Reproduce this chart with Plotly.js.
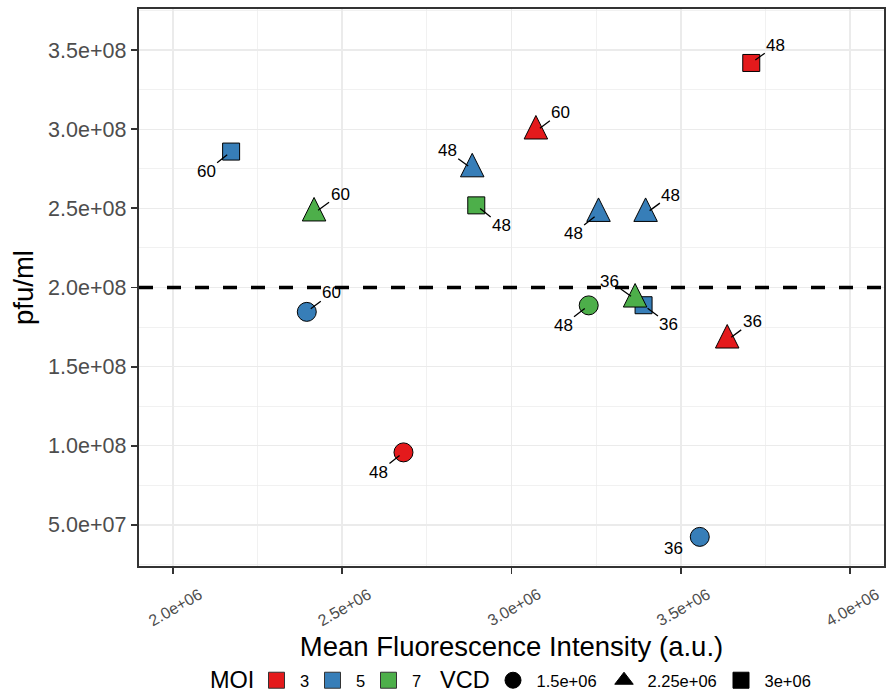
<!DOCTYPE html>
<html><head><meta charset="utf-8">
<script src="https://cdn.plot.ly/plotly-3.0.1.min.js"></script>
<style>html,body{margin:0;padding:0;background:#fff}#chart{width:886px;height:696px}</style>
</head><body><div id="chart"></div>
<script>
// ---- data ----
const mfi = [2.172e6, 2.417e6, 2.3955e6, 2.681e6, 3.556e6, 3.072e6, 2.884e6, 2.896e6, 3.257e6, 3.396e6, 3.228e6, 3.390e6, 3.365e6, 3.637e6, 3.708e6];
const pfu = [2.859e8, 2.470e8, 1.846e8, 0.958e8, 0.424e8, 2.988e8, 2.749e8, 2.519e8, 2.467e8, 2.467e8, 1.887e8, 1.888e8, 1.926e8, 1.667e8, 3.419e8];
const moi = [5, 7, 5, 3, 5, 3, 5, 7, 5, 5, 7, 5, 7, 3, 3];
const vcd = [3e6, 2.25e6, 1.5e6, 1.5e6, 1.5e6, 2.25e6, 2.25e6, 3e6, 2.25e6, 2.25e6, 1.5e6, 3e6, 2.25e6, 2.25e6, 3e6];
const hours = ['60', '60', '60', '48', '36', '60', '48', '48', '48', '48', '48', '36', '36', '36', '48'];
const moiLevels = [3, 5, 7];
const vcdLevels = [1.5e6, 2.25e6, 3e6];
const vcdLabels = ['1.5e+06', '2.25e+06', '3e+06'];
const xTicks = [2e6, 2.5e6, 3e6, 3.5e6, 4e6];
const xTickText = ['2.0e+06', '2.5e+06', '3.0e+06', '3.5e+06', '4.0e+06'];
const yTicks = [5e7, 1e8, 1.5e8, 2e8, 2.5e8, 3e8, 3.5e8];
const yTickText = ['5.0e+07', '1.0e+08', '1.5e+08', '2.0e+08', '2.5e+08', '3.0e+08', '3.5e+08'];
const threshold = 2e8;
const xLimits = [2e6, 4e6];
const yLimits = [4e7, 3.6e8];

// ---- styles ----
const FONT = 'Liberation Sans, Arial, Helvetica, sans-serif';
const moiColor = {3: '#E41A1C', 5: '#377EB8', 7: '#4DAF4A'};
const shapeStyle = {
  1.5e6: {symbol: 'circle', size: 19, angle: 0, standoff: 0},
  2.25e6: {symbol: 'arrow-down', size: 23.5, angle: 180, standoff: 23.5 * 2 / 3},
  3e6: {symbol: 'square', size: 17, angle: 0, standoff: 0}
};
const legendSymbol = {1.5e6: 'circle', 2.25e6: 'triangle-up', 3e6: 'square'};
const vcdItemWidth = [59, 65, 50];
// label offsets (px) for repelled text
const labelOffset = [[-25, 20], [26, -19], [25, -19], [-25, 20], [-26, 12], [25, -18.5], [-25, -18.4], [25.4, 20.5],
  [-25.4, 20], [25.3, -18.5], [-25.7, 20], [25.4, 19], [-25.3, -18], [25, -18.4], [24.5, -17.7]];
const noSegment = [4];

function expand(l) { const d = (l[1] - l[0]) * 0.05; return [l[0] - d, l[1] + d]; }
const xRange = expand(xLimits), yRange = expand(yLimits);

const traces = [];
traces.push({
  type: 'scatter', mode: 'lines', x: xRange, y: [threshold, threshold], showlegend: false, hoverinfo: 'skip',
  line: {color: '#000', width: 3.5, dash: '14px,14px'}
});
traces.push({
  type: 'scatter', mode: 'markers', x: mfi, y: pfu, showlegend: false, hoverinfo: 'skip',
  marker: {
    opacity: 1,
    color: moi.map(m => moiColor[m]),
    symbol: vcd.map(v => shapeStyle[v].symbol),
    size: vcd.map(v => shapeStyle[v].size),
    angle: vcd.map(v => shapeStyle[v].angle),
    standoff: vcd.map(v => shapeStyle[v].standoff),
    line: {color: '#000', width: 1}
  }
});
moiLevels.forEach(m => traces.push({
  type: 'scatter', mode: 'markers', x: [null], y: [null], name: String(m), legend: 'legend', legendwidth: 4,
  marker: {symbol: 'square', size: 17, color: moiColor[m], opacity: 1, line: {color: '#333', width: 1}}
}));
vcdLevels.forEach((v, i) => traces.push({
  type: 'scatter', mode: 'markers', x: [null], y: [null], name: vcdLabels[i], legend: 'legend2', legendwidth: vcdItemWidth[i],
  marker: {symbol: legendSymbol[v], size: 16, color: '#000', opacity: 1, line: {color: '#000', width: 1}}
}));

const annotations = [];
mfi.forEach((x, i) => annotations.push({
  x: x, y: pfu[i], xref: 'x', yref: 'y', text: hours[i], showarrow: true, arrowhead: 0,
  arrowwidth: 1.3, arrowcolor: noSegment.includes(i) ? 'rgba(0,0,0,0)' : '#000', standoff: 5,
  ax: labelOffset[i][0], ay: labelOffset[i][1], font: {family: FONT, size: 17, color: '#000'}
}));
xTicks.forEach((v, i) => annotations.push({
  x: v, y: 0, xref: 'x', yref: 'paper', text: xTickText[i], showarrow: false, textangle: -30,
  xanchor: 'center', yanchor: 'middle', yshift: -41, xshift: 2,
  font: {family: FONT, size: 16, color: '#4D4D4D'}
}));
// legend titles
const legendY = -(680.5 - 566) / 557;
[['MOI', 210], ['VCD', 440]].forEach(([t, px]) => annotations.push({
  x: (px - 139) / 745, y: legendY, xref: 'paper', yref: 'paper', text: t, showarrow: false,
  xanchor: 'left', yanchor: 'middle', font: {family: FONT, size: 23.5, color: '#000'}, xshift: -2
}));

const gridCol = '#EBEBEB';
const axisCommon = {
  showline: true, mirror: true, linecolor: '#333333', linewidth: 1.8,
  ticks: 'outside', ticklen: 6.5, tickwidth: 1.8, tickcolor: '#333333', automargin: false,
  showgrid: true, gridcolor: gridCol, gridwidth: 1.4, zeroline: false, tickmode: 'array'
};

const layout = {
  width: 886, height: 696, paper_bgcolor: '#fff', plot_bgcolor: '#fff',
  margin: {l: 139, r: 2, t: 9, b: 130, autoexpand: false},
  font: {family: FONT, color: '#000'},
  xaxis: Object.assign({}, axisCommon, {
    range: xRange, tickvals: xTicks, ticktext: xTickText, showticklabels: false,
    minor: {tickmode: 'linear', tick0: 0, dtick: (xTicks[1] - xTicks[0]) / 2, showgrid: true, gridcolor: gridCol, gridwidth: 0.7},
    title: {text: 'Mean Fluorescence Intensity (a.u.)', font: {size: 27.5, color: '#000'}, standoff: 63}
  }),
  yaxis: Object.assign({}, axisCommon, {
    range: yRange, tickvals: yTicks, ticktext: yTickText,
    tickfont: {size: 21.5, color: '#4D4D4D'},
    minor: {tickmode: 'linear', tick0: 0, dtick: (yTicks[1] - yTicks[0]) / 2, showgrid: true, gridcolor: gridCol, gridwidth: 0.7},
    title: {text: 'pfu/ml', font: {size: 27.5, color: '#000'}, standoff: 6}
  }),
  annotations: annotations,
  legend: {
    orientation: 'h', x: (253 - 139) / 745, xanchor: 'left', y: legendY, yanchor: 'middle',
    font: {size: 16.5, color: '#000'}, itemwidth: 37, bgcolor: 'rgba(0,0,0,0)', borderwidth: 0
  },
  legend2: {
    orientation: 'h', x: (489.5 - 139) / 745, xanchor: 'left', y: legendY, yanchor: 'middle',
    font: {size: 16.5, color: '#000'}, itemwidth: 37, bgcolor: 'rgba(0,0,0,0)', borderwidth: 0
  }
};

Plotly.newPlot('chart', traces, layout, {staticPlot: true});
</script>
</body></html>
